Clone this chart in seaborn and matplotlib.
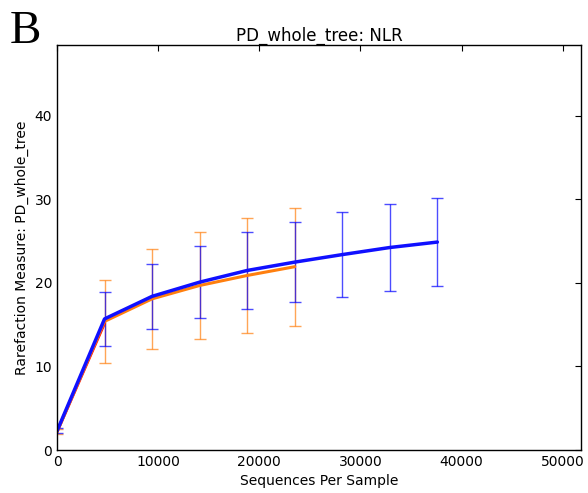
import numpy as np
import pandas as pd
import matplotlib
matplotlib.use("Agg")
import matplotlib.pyplot as plt
import seaborn as sns

# data
depth_blue = [10, 4700, 9400, 14100, 18800, 23500, 28200, 32900, 37600]
mean_blue = [2.3, 15.7, 18.4, 20.1, 21.5, 22.5, 23.4, 24.25, 24.9]
std_blue = [0.3, 3.2, 3.9, 4.3, 4.65, 4.8, 5.05, 5.25, 5.3]

depth_orange = [10, 4700, 9400, 14100, 18800, 23500]
mean_orange = [2.2, 15.4, 18.1, 19.7, 20.9, 21.95]
std_orange = [0.3, 5.0, 6.0, 6.4, 6.9, 7.05]

depth_red = [10, 4700]
mean_red = [2.2, 15.2]

x_ticks = [0, 10000, 20000, 30000, 40000, 50000]
y_ticks = [0, 10, 20, 30, 40]

sns.set_style("white")
plt.rcParams['font.family'] = ['DejaVu Sans']
plt.rcParams['text.color'] = 'black'
plt.rcParams['axes.labelcolor'] = 'black'

fig = plt.figure(figsize=(5.88, 4.93), dpi=100)
ax = fig.add_axes([57/588, 43/493, 524/588, 405/493])

df_o = pd.DataFrame({"x": depth_orange, "y": mean_orange})
df_r = pd.DataFrame({"x": depth_red, "y": mean_red})
df_b = pd.DataFrame({"x": depth_blue, "y": mean_blue})

ax.errorbar(depth_orange, mean_orange, yerr=std_orange, fmt='none',
            ecolor='#ff7f0e', alpha=0.7, elinewidth=1, capsize=4, capthick=1)
ax.errorbar(depth_blue, mean_blue, yerr=std_blue, fmt='none',
            ecolor='#0000ff', alpha=0.7, elinewidth=1, capsize=4, capthick=1)

sns.lineplot(data=df_r, x="x", y="y", ax=ax, color='#ff0000', lw=2.2)
sns.lineplot(data=df_o, x="x", y="y", ax=ax, color='#ff7f0e', lw=2.2)
sns.lineplot(data=df_b, x="x", y="y", ax=ax, color='#1010ff', lw=2.5)

ax.set_xlim(0, 51800)
ax.set_ylim(0, 48.5)
ax.set_xticks(x_ticks)
ax.set_yticks(y_ticks)
ax.tick_params(direction='in', top=True, right=True, length=4, labelsize=10, colors='black')
for s in ax.spines.values():
    s.set_color('black')
    s.set_linewidth(1)
ax.set_xlabel("Sequences Per Sample", fontsize=10, color='black')
ax.set_ylabel("Rarefaction Measure: PD_whole_tree", fontsize=10, color='black')
ax.set_title("PD_whole_tree: NLR", fontsize=12, pad=3, color='black')
fig.text(10/588, 1 - 32/493, "B", fontsize=34, family='Liberation Serif', va='center', ha='left', color='black')

fig.savefig("out.png", dpi=100)
